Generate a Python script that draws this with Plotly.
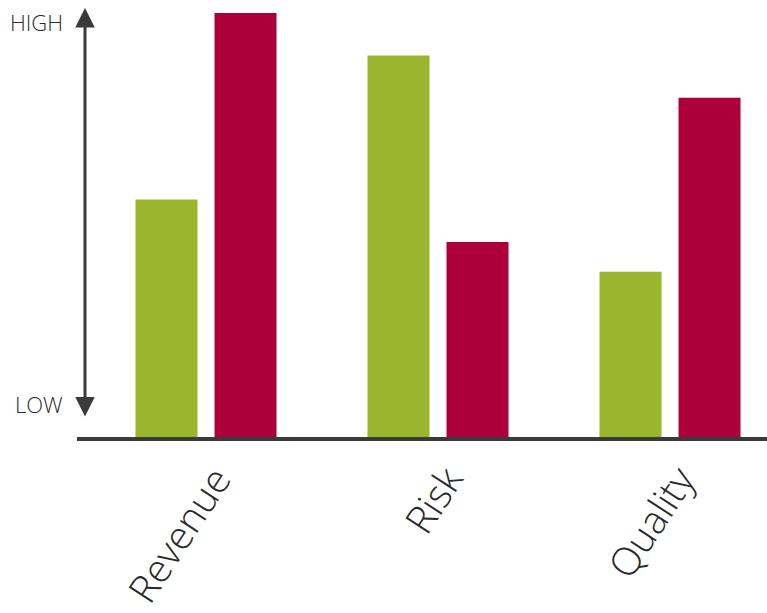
import plotly.graph_objects as go

categories = ["Revenue", "Risk", "Quality"]
series_a = [5.6, 9.0, 3.9]   # green
series_b = [10.0, 4.6, 8.0]  # crimson
y_labels = ["HIGH", "LOW"]

GREEN = "#9BB52C"
CRIMSON = "#AD003B"
DARK = "#3A3A3A"
TEXT = "#2A2A2A"
FONT = "Open Sans"

fig = go.Figure()
fig.add_trace(go.Bar(x=categories, y=series_a, marker=dict(color=GREEN, line=dict(width=0)), showlegend=False))
fig.add_trace(go.Bar(x=categories, y=series_b, marker=dict(color=CRIMSON, line=dict(width=0)), showlegend=False))

W, H = 767, 613
ml, mr, mt, mb = 77, 0, 0, 176
pw = W - ml - mr
ph = H - mt - mb

fig.update_layout(
    width=W, height=H,
    margin=dict(l=ml, r=mr, t=mt, b=mb, pad=0, autoexpand=False),
    paper_bgcolor="white", plot_bgcolor="white",
    barmode="group", bargap=0.319, bargroupgap=0.215,
    font=dict(family=FONT, color=TEXT, weight=300),
    xaxis=dict(
        range=[-0.556, 2.418], showgrid=False, zeroline=False,
        showline=True, linewidth=4, linecolor=DARK, automargin=False,
        ticks="", tickangle=-57, ticklabelshift=10,
        tickfont=dict(family=FONT, size=39, color=TEXT, weight=300),
    ),
    yaxis=dict(range=[0, 10.307], showgrid=False, zeroline=False, automargin=False,
               showline=False, showticklabels=False, ticks=""),
)

def py(pix):
    return (H - mb - pix) / ph

def px(pix):
    return (pix - ml) / pw

# double-headed vertical arrow
fig.add_annotation(x=px(85), y=py(8), xref="paper", yref="paper",
                   ax=0, ay=418 - 8, axref="pixel", ayref="pixel",
                   showarrow=True, arrowside="end+start",
                   arrowhead=2, arrowsize=1.3, startarrowhead=2, startarrowsize=1.3,
                   arrowwidth=3, arrowcolor=DARK, text="")

fig.add_annotation(x=px(65), y=py(22), xref="paper", yref="paper",
                   text=y_labels[0], showarrow=False, xanchor="right", yanchor="middle",
                   font=dict(family=FONT, size=22, color=TEXT, weight=300))
fig.add_annotation(x=px(65), y=py(404), xref="paper", yref="paper",
                   text=y_labels[1], showarrow=False, xanchor="right", yanchor="middle",
                   font=dict(family=FONT, size=22, color=TEXT, weight=300))

fig.write_html("out.html")
